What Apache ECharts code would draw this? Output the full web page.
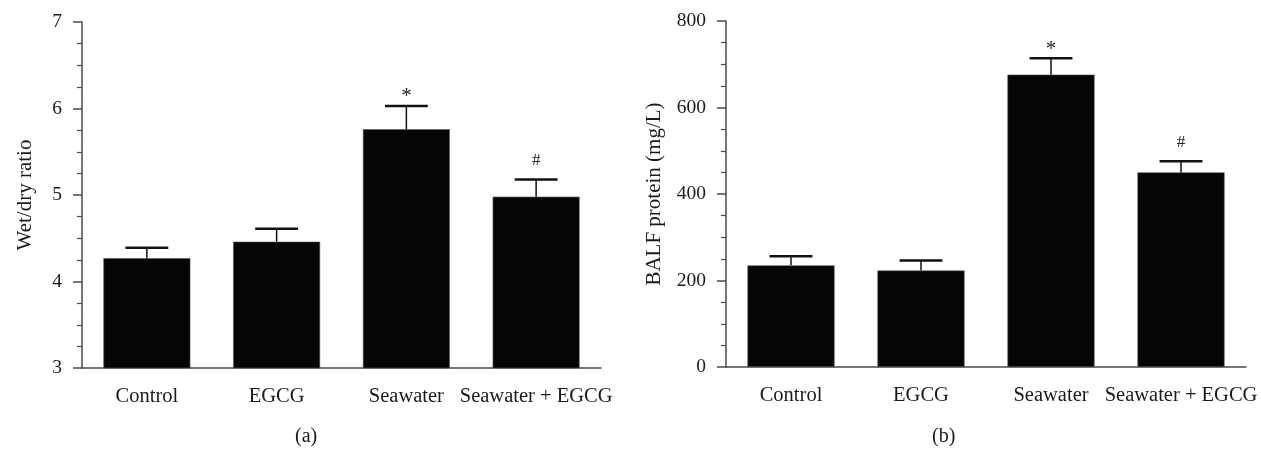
<!DOCTYPE html>
<html>
<head>
<meta charset="utf-8">
<script src="https://cdn.jsdelivr.net/npm/echarts@6/dist/echarts.min.js"></script>
<style>
html,body{margin:0;padding:0;background:#fff;}
#chart{width:1261px;height:451px;}
</style>
</head>
<body>
<div id="chart"></div>
<script>
const categories = ['Control', 'EGCG', 'Seawater', 'Seawater + EGCG'];
const wetDryValues = [4.27, 4.46, 5.76, 4.98];
const wetDryErrors = [0.12, 0.15, 0.27, 0.20];
const balfValues = [235, 223, 676, 450];
const balfErrors = [21, 23, 38, 26];
const wetDryMarkers = ['', '', '*', '#'];
const balfMarkers = ['', '', '*', '#'];
const panelLabels = ['(a)', '(b)'];

const FONT = '"Liberation Serif", "DejaVu Serif", serif';
const TXT = '#1a1a1a';
const AX = '#4a4a4a';

function errData(vals, errs) {
  return vals.map((v, i) => [i, v, errs[i]]);
}

function errRender(params, api) {
  const x = api.value(0);
  const v = api.value(1);
  const e = api.value(2);
  const p0 = api.coord([x, v]);
  const p1 = api.coord([x, v + e]);
  const half = api.size([1, 0])[0] * 0.165;
  return {type: 'group', children: [
    {type: 'line', shape: {x1: p0[0], y1: p0[1], x2: p1[0], y2: p1[1]}, style: {stroke: '#111', lineWidth: 1.5}},
    {type: 'line', shape: {x1: p1[0] - half, y1: p1[1], x2: p1[0] + half, y2: p1[1]}, style: {stroke: '#111', lineWidth: 2.5}}
  ]};
}

function markRender(marks) {
  return function (params, api) {
    const x = api.value(0);
    const top = api.value(1) + api.value(2);
    const p = api.coord([x, top]);
    const m = marks[params.dataIndex];
    if (!m) return null;
    const off = m === '*' ? 9 : 19;
    return {
      type: 'text',
      style: {text: m, x: p[0], y: p[1] - off, align: 'center', verticalAlign: 'middle',
              font: (m === '*' ? '21px ' : '17px ') + FONT, fill: '#222'}
    };
  };
}

const catAxis = (gi) => ({
  type: 'category', gridIndex: gi, data: categories,
  axisLine: {lineStyle: {color: AX, width: 1.5}},
  axisTick: {alignWithLabel: true, length: 9, lineStyle: {color: AX, width: 1.5}},
  axisLabel: {color: TXT, fontFamily: FONT, fontSize: 20.5, margin: 18, interval: 0}
});

const valAxis = (gi, min, max, interval, name, gap) => ({
  type: 'value', gridIndex: gi, min: min, max: max, interval: interval,
  name: name, nameLocation: 'middle', nameGap: gap,
  nameTextStyle: {color: TXT, fontFamily: FONT, fontSize: 21},
  axisLine: {show: true, lineStyle: {color: AX, width: 1.5}},
  axisTick: {show: true, length: 9, lineStyle: {color: AX, width: 1.5}},
  minorTick: {show: true, splitNumber: 4, length: 5, lineStyle: {color: AX, width: 1.2}},
  splitLine: {show: false},
  axisLabel: {color: TXT, fontFamily: FONT, fontSize: 19.5, margin: 20}
});

const chart = echarts.init(document.getElementById('chart'), null, {renderer: 'canvas'});
chart.setOption({
  backgroundColor: '#fff',
  animation: false,
  grid: [
    {left: 82, right: 660, top: 22, bottom: 83},
    {left: 726, right: 15, top: 21, bottom: 84}
  ],
  xAxis: [catAxis(0), catAxis(1)],
  yAxis: [
    valAxis(0, 3, 7, 1, 'Wet/dry ratio', 46),
    valAxis(1, 0, 800, 200, 'BALF protein (mg/L)', 61)
  ],
  graphic: [
    {type: 'text', left: 308 - 13, top: 427, style: {text: panelLabels[0], font: '20px ' + FONT, fill: TXT}},
    {type: 'text', left: 945 - 13, top: 427, style: {text: panelLabels[1], font: '20px ' + FONT, fill: TXT}}
  ],
  series: [
    {type: 'bar', xAxisIndex: 0, yAxisIndex: 0, data: wetDryValues, barWidth: '67%',
     itemStyle: {color: '#050505', borderColor: '#555', borderWidth: 0.6}},
    {type: 'custom', xAxisIndex: 0, yAxisIndex: 0, data: errData(wetDryValues, wetDryErrors),
     renderItem: errRender, z: 3},
    {type: 'custom', xAxisIndex: 0, yAxisIndex: 0, data: errData(wetDryValues, wetDryErrors),
     renderItem: markRender(wetDryMarkers), z: 3, clip: false},
    {type: 'bar', xAxisIndex: 1, yAxisIndex: 1, data: balfValues, barWidth: '67%',
     itemStyle: {color: '#050505', borderColor: '#555', borderWidth: 0.6}},
    {type: 'custom', xAxisIndex: 1, yAxisIndex: 1, data: errData(balfValues, balfErrors),
     renderItem: errRender, z: 3},
    {type: 'custom', xAxisIndex: 1, yAxisIndex: 1, data: errData(balfValues, balfErrors),
     renderItem: markRender(balfMarkers), z: 3, clip: false}
  ]
});
</script>
</body>
</html>
